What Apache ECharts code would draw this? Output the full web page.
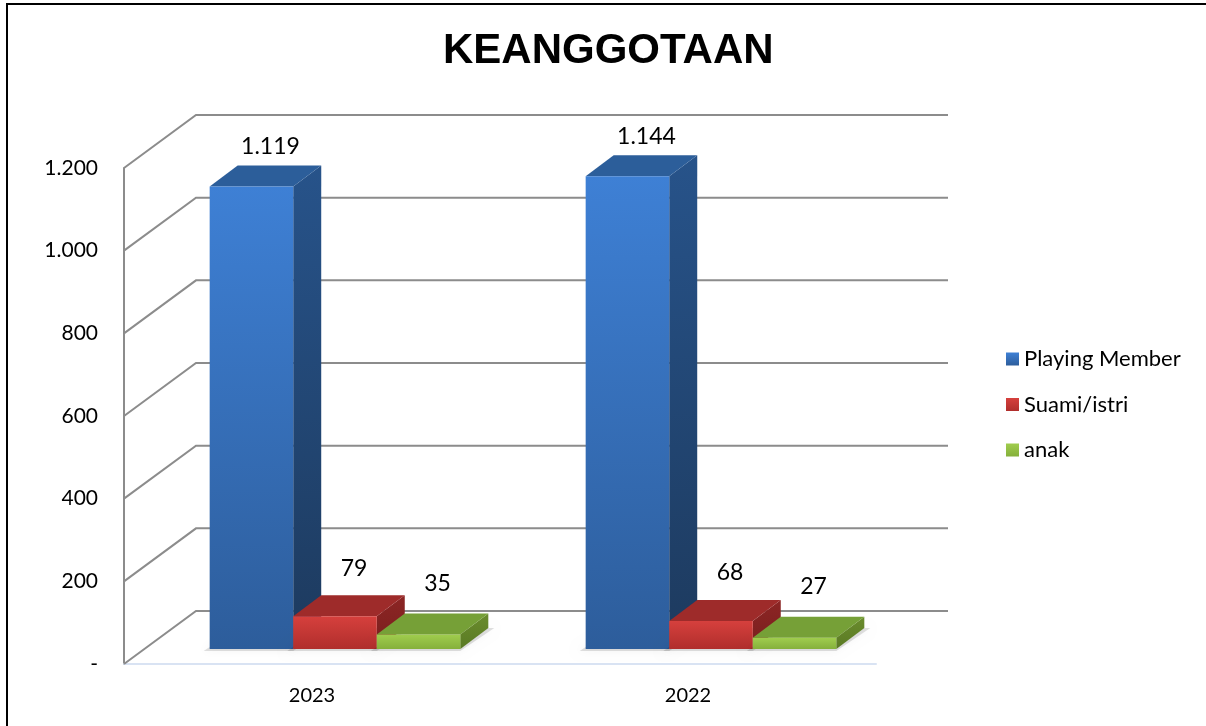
<!DOCTYPE html>
<html>
<head>
<meta charset="utf-8">
<script src="https://cdn.jsdelivr.net/npm/echarts@6/dist/echarts.min.js"></script>
<style>
  html, body { margin: 0; padding: 0; background: #fff; }
  #main { width: 1206px; height: 726px; }
</style>
</head>
<body>
<div id="main"></div>
<script>
// data
var categories = ['2023', '2022'];
var seriesNames = ['Playing Member', 'Suami/istri', 'anak'];
var playingMember = [1119, 1144];
var suamiIstri = [79, 68];
var anak = [35, 27];
var yTicks = [0, 200, 400, 600, 800, 1000, 1200];

// 3d look (pixels)
var WALL_DX = 72, WALL_DY = -53;   // depth of the left/back walls
var BAR_DX0 = 23, BAR_DY0 = -15;   // front face of the bars sits a bit behind the front edge
var BAR_DX = 28, BAR_DY = -21;     // depth of a bar
var LABEL_UP = [19, 27, 30];       // label distance above the bar top, per series

var palette = [
  { front: ['#3e80d5', '#2d5d9b'], side: ['#27538a', '#1d3a5e'], top: '#2c5e9a' },
  { front: ['#d6403d', '#b02e2c'], side: ['#8c2524', '#7a1f1e'], top: '#9e2b2a' },
  { front: ['#a0cd4e', '#85b03b'], side: ['#6a8c2d', '#5a7a24'], top: '#76a037' }
];

function grad(c) {
  return new echarts.graphic.LinearGradient(0, 0, 0, 1, [
    { offset: 0, color: c[0] }, { offset: 1, color: c[1] }
  ]);
}

function fmt(v) {
  if (v === 0) return '-';
  return String(v).replace(/\B(?=(\d{3})+(?!\d))/g, '.');
}

// wall: slanted lines on the left side + horizontal lines on the back
function renderWall(params, api) {
  var cs = params.coordSys;
  var v = api.value(0);
  var y = api.coord([0, v])[1];
  var left = cs.x, right = cs.x + cs.width;
  return {
    type: 'polyline',
    shape: { points: [[left, y], [left + WALL_DX, y + WALL_DY], [right + WALL_DX, y + WALL_DY]] },
    style: { stroke: '#8c8c8c', lineWidth: 2, fill: null },
    silent: true
  };
}

function makeBarRenderer(idx) {
  var col = palette[idx];
  return function (params, api) {
    var cat = api.value(0);
    var val = api.value(1);
    var band = api.size([1, 0])[0];
    var bw = band / 4.5;
    var center = api.coord([cat, 0])[0];
    var base = api.coord([cat, 0])[1];
    var top = api.coord([cat, val])[1];
    var x0 = center - 1.5 * bw + idx * bw + BAR_DX0;
    var x1 = x0 + bw;
    var yb = base + BAR_DY0;
    var yt = top + BAR_DY0;
    var front = [[x0, yt], [x1, yt], [x1, yb], [x0, yb]];
    var side = [[x1, yt], [x1 + BAR_DX, yt + BAR_DY], [x1 + BAR_DX, yb + BAR_DY], [x1, yb]];
    var topFace = [[x0, yt], [x0 + BAR_DX, yt + BAR_DY], [x1 + BAR_DX, yt + BAR_DY], [x1, yt]];
    var foot = [[x0 - 6, yb + 2], [x0 + BAR_DX, yb + BAR_DY], [x1 + BAR_DX + 6, yb + BAR_DY], [x1, yb + 2]];
    var labelX = (x0 + x1) / 2 + 19;
    var labelY = yt + BAR_DY - LABEL_UP[idx];
    return {
      type: 'group',
      children: [
        { type: 'polygon', shape: { points: foot },
          style: { fill: 'rgba(0,0,0,0.12)', shadowBlur: 10, shadowColor: 'rgba(0,0,0,0.35)', shadowOffsetX: -2 }, silent: true },
        { type: 'polygon', shape: { points: side }, style: { fill: grad(col.side) } },
        { type: 'polygon', shape: { points: topFace }, style: { fill: col.top } },
        { type: 'polygon', shape: { points: front }, style: { fill: grad(col.front) } },
        { type: 'text', style: { x: labelX, y: labelY, text: fmt(val), align: 'center', verticalAlign: 'middle',
            fontFamily: 'Lato', fontSize: 23, fill: '#000' } }
      ]
    };
  };
}

var barValues = [playingMember, suamiIstri, anak];
var barSeries = barValues.map(function (vals, i) {
  return {
    name: seriesNames[i],
    type: 'custom',
    z: 3 + i,
    renderItem: makeBarRenderer(i),
    itemStyle: { color: grad(palette[i].front) },
    encode: { x: 0, y: 1 },
    data: vals.map(function (v, k) { return [k, v]; })
  };
});

var chart = echarts.init(document.getElementById('main'));
var option = {
  animation: false,
  backgroundColor: '#fff',
  title: {
    text: 'KEANGGOTAAN',
    left: 443,
    top: 30,
    padding: 0,
    textStyle: { fontFamily: 'Liberation Sans', fontWeight: 'bold', fontSize: 42, color: '#000' }
  },
  legend: {
    orient: 'vertical',
    left: 1006,
    top: 346,
    padding: 0,
    icon: 'rect',
    itemWidth: 13,
    itemHeight: 13,
    itemGap: 19.5,
    data: seriesNames,
    textStyle: { fontFamily: 'Lato', fontSize: 22, color: '#000', lineHeight: 26 }
  },
  grid: { left: 124, right: 330, top: 168, bottom: 62 },
  xAxis: {
    type: 'category',
    data: categories,
    axisTick: { show: false },
    axisLine: { show: true, lineStyle: { color: '#d9e3f3', width: 2 } },
    axisLabel: { margin: 22, fontFamily: 'Lato', fontSize: 20, color: '#000' }
  },
  yAxis: {
    type: 'value',
    min: 0,
    max: 1200,
    interval: 200,
    splitLine: { show: false },
    axisTick: { show: false },
    axisLine: { show: true, lineStyle: { color: '#8c8c8c', width: 2 } },
    axisLabel: { margin: 26, fontFamily: 'Lato', fontSize: 21, color: '#000', formatter: fmt }
  },
  graphic: [
    { type: 'rect', shape: { x: 7, y: 4, width: 1210, height: 730 },
      style: { fill: null, stroke: '#000', lineWidth: 2 }, z: 100, silent: true }
  ],
  series: [
    {
      type: 'custom',
      name: 'wall',
      z: 1,
      silent: true,
      renderItem: renderWall,
      encode: { y: 0 },
      data: yTicks.map(function (t) { return [t]; })
    }
  ].concat(barSeries)
};
chart.setOption(option);
</script>
</body>
</html>
